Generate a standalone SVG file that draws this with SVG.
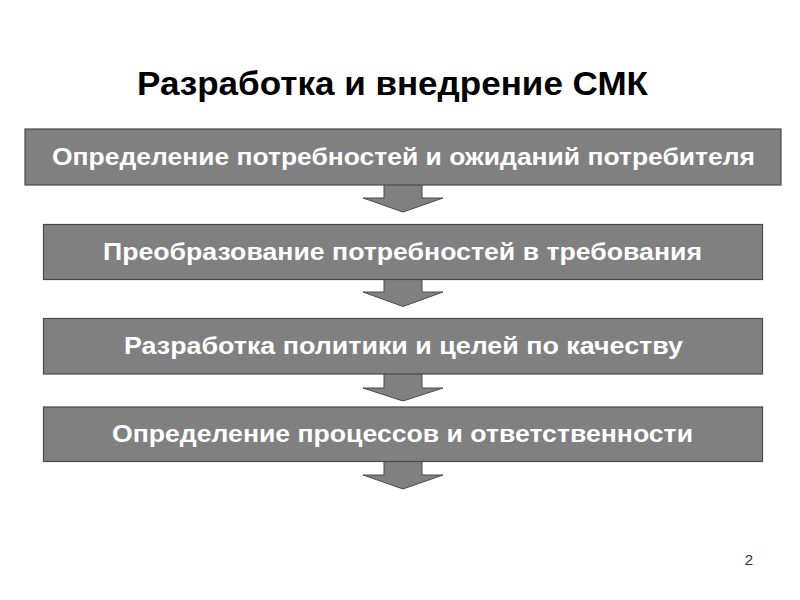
<svg xmlns="http://www.w3.org/2000/svg" width="800" height="600" viewBox="0 0 800 600">
<style>
.box{fill:#808080;stroke:#4a4a4a;stroke-width:1.2}
.arr{fill:#808080;stroke:#4a4a4a;stroke-width:1}
.lbl{font-family:"Liberation Sans",Arial,sans-serif;font-weight:bold;font-size:23px;fill:#ffffff}
.title{font-family:"Liberation Sans",Arial,sans-serif;font-weight:bold;font-size:33px;fill:#000000}
.pg{font-family:"Liberation Sans",Arial,sans-serif;font-size:15px;fill:#333333;text-anchor:middle}
</style>
<rect width="800" height="600" fill="#ffffff"/>
<text class="title" x="137" y="95" textLength="511" lengthAdjust="spacingAndGlyphs">Разработка и внедрение СМК</text>
<g id="connectors">
<path class="arr" d="M384,185 V198 H363 L403,212 L443,198 H422 V185"/>
<path class="arr" d="M384,279 V292 H363 L403,306.5 L443,292 H422 V279"/>
<path class="arr" d="M384,374 V388 H363 L403,401 L443,388 H422 V374"/>
<path class="arr" d="M384,461.5 V475 H363 L403,489 L443,475 H422 V461.5"/>
</g>
<g id="n1">
<rect class="box" x="25" y="129" width="756" height="56"/>
<text class="lbl" x="52" y="164.5" textLength="703" lengthAdjust="spacingAndGlyphs">Определение потребностей и ожиданий потребителя</text>
</g>
<g id="n2">
<rect class="box" x="43.5" y="224.5" width="719" height="55"/>
<text class="lbl" x="103" y="259.5" textLength="599" lengthAdjust="spacingAndGlyphs">Преобразование потребностей в требования</text>
</g>
<g id="n3">
<rect class="box" x="43.5" y="318.5" width="719" height="55.5"/>
<text class="lbl" x="124" y="353.5" textLength="559" lengthAdjust="spacingAndGlyphs">Разработка политики и целей по качеству</text>
</g>
<g id="n4">
<rect class="box" x="43.5" y="407" width="719" height="54.5"/>
<text class="lbl" x="112" y="441.5" textLength="581" lengthAdjust="spacingAndGlyphs">Определение процессов и ответственности</text>
</g>
<text class="pg" x="749" y="565">2</text>
</svg>
